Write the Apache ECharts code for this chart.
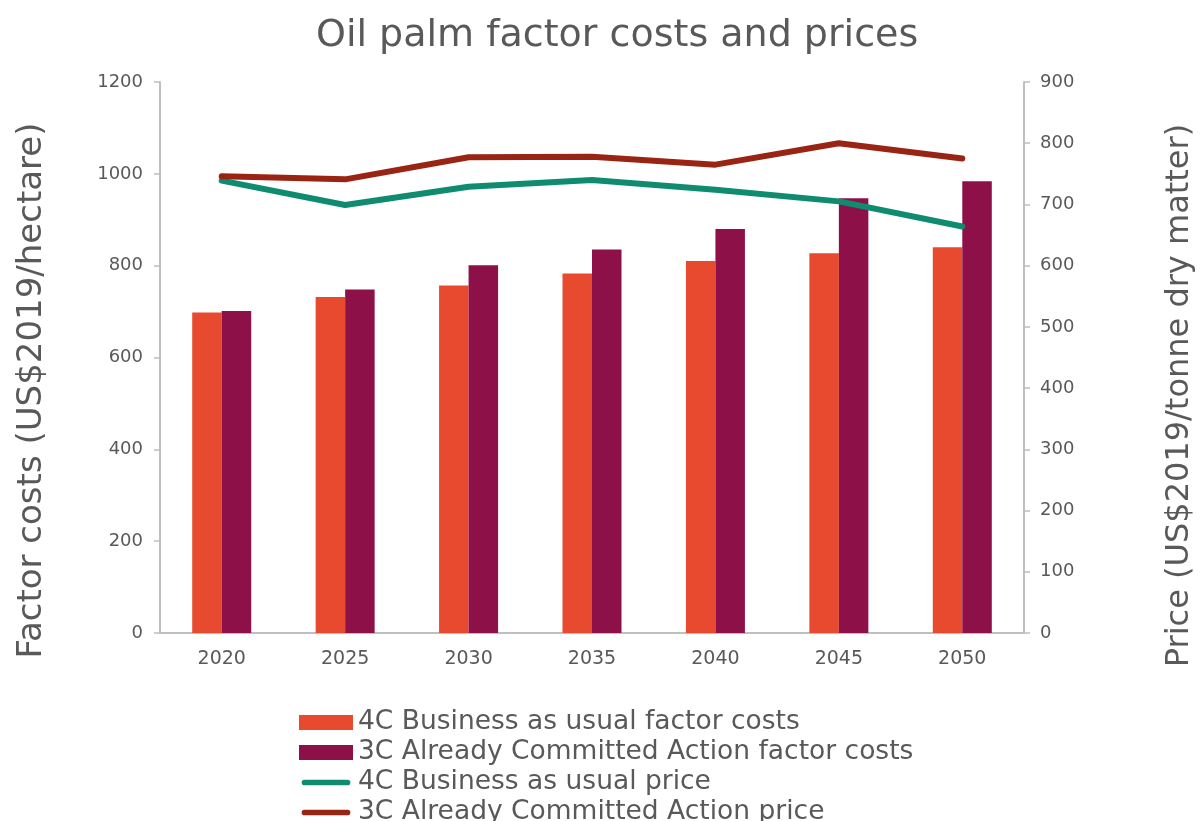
<!DOCTYPE html>
<html>
<head>
<meta charset="utf-8">
<script src="https://cdn.jsdelivr.net/npm/echarts@6/dist/echarts.min.js"></script>
<style>
  html, body { margin: 0; padding: 0; background: #fff; }
  #chart { width: 1204px; height: 821px; }
</style>
</head>
<body>
<div id="chart"></div>
<script>
// Oil palm factor costs (bars, left axis) and prices (lines, right axis)
const years = ['2020', '2025', '2030', '2035', '2040', '2045', '2050'];
const bauCosts = [698, 732, 757, 783, 810, 827, 840];
const acaCosts = [701, 748, 801, 835, 880, 947, 984];
const bauPrice = [739, 699, 729, 740, 724, 705, 664];
const acaPrice = [746, 741, 777, 778, 765, 800, 775];
const costTicks = [0, 200, 400, 600, 800, 1000, 1200];
const priceTicks = [0, 100, 200, 300, 400, 500, 600, 700, 800, 900];

const FONT = '"DejaVu Sans", sans-serif';
const GREY = '#595959';
const AXIS = '#bfbfbf';
const C_BAU_BAR = '#E84A2F';
const C_ACA_BAR = '#8D1049';
const C_BAU_LINE = '#0F8B6F';
const C_ACA_LINE = '#9A2414';

// thick rounded stroke used as legend key for the price lines
const LINE_KEY = 'path://M0,0 L0.01,0 Z M3,5 H49 A3,3 0 0 1 49,11 H3 A3,3 0 0 1 3,5 Z M0,16 L0.01,16 Z';

const chart = echarts.init(document.getElementById('chart'), null, { renderer: 'canvas' });
chart.setOption({
  animation: false,
  backgroundColor: '#ffffff',
  title: {
    text: 'Oil palm factor costs and prices',
    left: 311,
    top: 12,
    textStyle: { fontFamily: FONT, fontSize: 38, fontWeight: 'normal', color: GREY }
  },
  grid: { left: 160, right: 173, top: 82, bottom: 188 },
  legend: {
    orient: 'vertical',
    left: 299,
    top: 709,
    height: 130,
    padding: 0,
    itemWidth: 54,
    itemHeight: 15,
    itemGap: 3,
    textStyle: { fontFamily: FONT, fontSize: 26.5, color: GREY, lineHeight: 26 },
    data: [
      { name: '4C Business as usual factor costs', icon: 'rect' },
      { name: '3C Already Committed Action factor costs', icon: 'rect' },
      { name: '4C Business as usual price', icon: LINE_KEY, itemStyle: { color: C_BAU_LINE } },
      { name: '3C Already Committed Action price', icon: LINE_KEY, itemStyle: { color: C_ACA_LINE } }
    ]
  },
  xAxis: {
    type: 'category',
    data: years,
    axisLine: { lineStyle: { color: AXIS, width: 2 } },
    axisTick: { show: false },
    axisLabel: { fontFamily: FONT, fontSize: 19, color: GREY, margin: 17 }
  },
  yAxis: [
    {
      type: 'value',
      min: costTicks[0],
      max: costTicks[costTicks.length - 1],
      interval: 200,
      name: 'Factor costs (US$2019/hectare)',
      nameLocation: 'middle',
      nameGap: 111,
      nameRotate: 90,
      nameTextStyle: { fontFamily: FONT, fontSize: 34, color: GREY, padding: [0, 66, 0, 0] },
      axisLine: { show: true, lineStyle: { color: AXIS, width: 2 } },
      axisTick: { show: true, length: 6, lineStyle: { color: AXIS, width: 1.5 } },
      splitLine: { show: false },
      axisLabel: { fontFamily: FONT, fontSize: 18, color: GREY, margin: 17, formatter: v => String(v) }
    },
    {
      type: 'value',
      position: 'right',
      min: priceTicks[0],
      max: priceTicks[priceTicks.length - 1],
      interval: 100,
      name: 'Price (US$2019/tonne dry matter)',
      nameLocation: 'middle',
      nameGap: 140,
      nameRotate: 90,
      nameTextStyle: { fontFamily: FONT, fontSize: 32, color: GREY, padding: [0, 76, 0, 0] },
      axisLine: { show: true, lineStyle: { color: AXIS, width: 2 } },
      axisTick: { show: true, length: 6, lineStyle: { color: AXIS, width: 1.5 } },
      splitLine: { show: false },
      axisLabel: { fontFamily: FONT, fontSize: 18, color: GREY, margin: 16, formatter: v => String(v) }
    }
  ],
  series: [
    {
      name: '4C Business as usual factor costs',
      type: 'bar',
      yAxisIndex: 0,
      data: bauCosts,
      barWidth: 29.5,
      barGap: '0%',
      itemStyle: { color: C_BAU_BAR }
    },
    {
      name: '3C Already Committed Action factor costs',
      type: 'bar',
      yAxisIndex: 0,
      data: acaCosts,
      barWidth: 29.5,
      barGap: '0%',
      itemStyle: { color: C_ACA_BAR }
    },
    {
      name: '4C Business as usual price',
      type: 'line',
      yAxisIndex: 1,
      data: bauPrice,
      symbol: 'none',
      lineStyle: { color: C_BAU_LINE, width: 6, cap: 'round', join: 'round' },
      itemStyle: { color: C_BAU_LINE }
    },
    {
      name: '3C Already Committed Action price',
      type: 'line',
      yAxisIndex: 1,
      data: acaPrice,
      symbol: 'none',
      lineStyle: { color: C_ACA_LINE, width: 6, cap: 'round', join: 'round' },
      itemStyle: { color: C_ACA_LINE }
    }
  ]
});
</script>
</body>
</html>
